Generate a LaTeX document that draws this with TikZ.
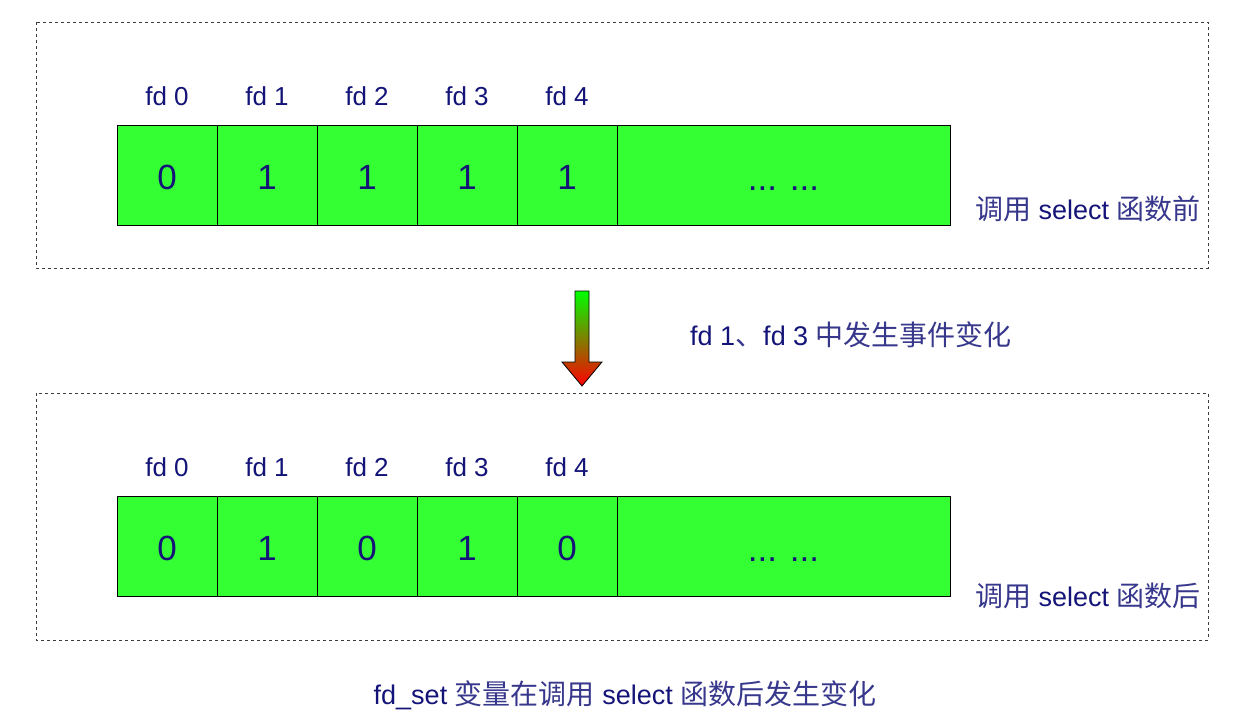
\documentclass[tikz,border=0pt]{standalone}
\usepackage{fontspec}
\setmainfont{Liberation Sans}
\newfontfamily\cjkf{Noto Sans CJK SC}
\newcommand{\cj}[1]{{\cjkf\fontsize{28}{32}\selectfont\color{cjkcol}#1}}
\definecolor{navy}{RGB}{20,20,120}
\definecolor{cjkcol}{RGB}{55,55,140}
\definecolor{cellgreen}{RGB}{51,255,51}
\definecolor{dashgray}{RGB}{60,60,60}
\begin{document}
\begin{tikzpicture}[x=1pt,y=-1pt,
  cell/.style={draw=black,line width=1pt,fill=cellgreen,minimum height=100pt,inner sep=0pt},
  sq/.style={cell,minimum width=100pt},
  wide/.style={cell,minimum width=333pt},
  frame/.style={draw=dashgray,line width=0.9pt,dash pattern=on 3pt off 3pt},
  lbl/.style={text=navy,font=\fontsize{26}{30}\selectfont,anchor=base,inner sep=0pt},
  txt/.style={text=navy,font=\fontsize{27}{31}\selectfont,anchor=base,inner sep=0pt},
  val/.style={text=navy,font=\fontsize{35}{40}\selectfont,anchor=base,inner sep=0pt}]
\useasboundingbox (0,0) rectangle (1239,725);
% frames
\draw[frame] (36,22) rectangle (1208,268);
\draw[frame] (36,393) rectangle (1208,640);
% top row
\foreach \i/\v in {0/0,1/1,2/1,3/1,4/1}{
  \node[sq] (t\i) at (167+100*\i,175) {};
  \node[lbl] (tl\i) at (167+100*\i,105) {fd \i};
  \node[val] (tv\i) at (167+100*\i,189) {\v};
}
\node[wide] (t5) at (783.5,175) {};
\node[val] (tv5) at (783.5,190) {... ...};
\node[txt,anchor=base west] (tcap) at (975,219) {\cj{调用} select \cj{函数前}};
% bottom row
\foreach \i/\v in {0/0,1/1,2/0,3/1,4/0}{
  \node[sq] (b\i) at (167+100*\i,546) {};
  \node[lbl] (bl\i) at (167+100*\i,476) {fd \i};
  \node[val] (bv\i) at (167+100*\i,560) {\v};
}
\node[wide] (b5) at (783.5,546) {};
\node[val] (bv5) at (783.5,561) {... ...};
\node[txt,anchor=base west] (bcap) at (975,606) {\cj{调用} select \cj{函数后}};
% arrow
\shadedraw[top color=green,bottom color=red,draw=black,line width=0.8pt]
  (575,291) -- (589,291) -- (589,362) -- (602,362) -- (582,386) -- (562,362) -- (575,362) -- cycle;
\node[txt,anchor=base west] (mid) at (690,345) {fd 1\cj{、}fd 3 \cj{中发生事件变化}};
% caption
\node[txt] (cap) at (625,704) {fd\_set \cj{变量在调用} select \cj{函数后发生变化}};
\end{tikzpicture}
\end{document}
